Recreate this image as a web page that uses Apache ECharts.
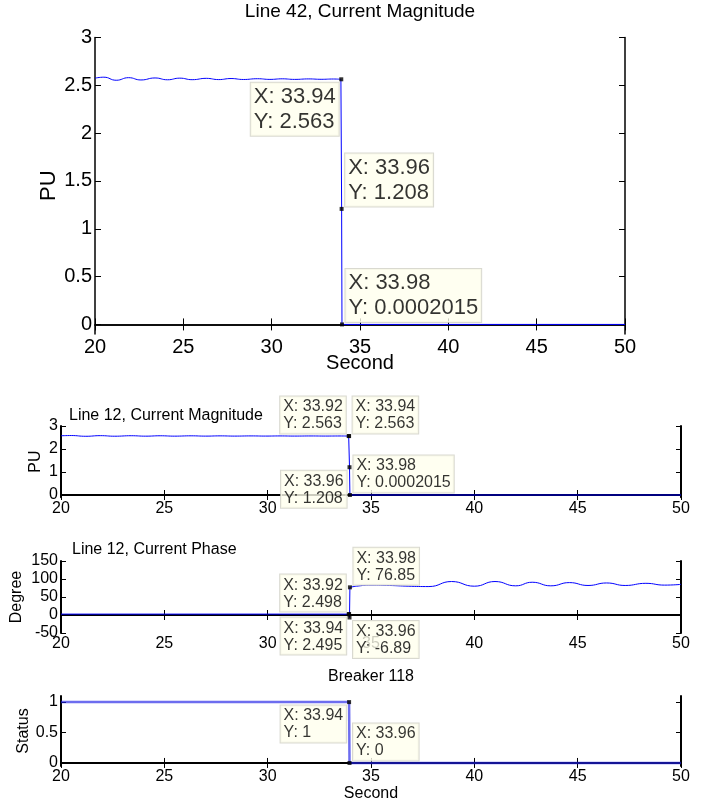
<!DOCTYPE html>
<html>
<head>
<meta charset="utf-8">
<script src="https://cdn.jsdelivr.net/npm/echarts@6.0.0/dist/echarts.min.js"></script>
<style>
html, body { margin: 0; padding: 0; background: #fff; }
#chart { width: 715px; height: 803px; }
</style>
</head>
<body>
<div id="chart"></div>
<script>
// ---- data ----
const secTicks = [20, 25, 30, 35, 40, 45, 50];

// Line 42 / Line 12 current magnitude before the trip (PU)
const magWaveT = [20.0, 20.5, 21.2, 21.9, 22.6, 23.4, 24.1, 24.8, 25.5, 26.3, 27.0, 27.7, 28.4, 29.2, 29.9, 30.6, 31.3, 32.1, 32.8, 33.5, 33.92];
const mag42Wave = [2.575, 2.585, 2.553, 2.580, 2.556, 2.577, 2.558, 2.575, 2.559, 2.573, 2.560, 2.571, 2.561, 2.569, 2.562, 2.568, 2.562, 2.567, 2.563, 2.566, 2.563];
const mag12Wave = [2.575, 2.585, 2.553, 2.580, 2.556, 2.577, 2.558, 2.575, 2.559, 2.573, 2.560, 2.571, 2.561, 2.569, 2.562, 2.568, 2.562, 2.567, 2.563, 2.566, 2.563];
// the drop
const magStepT = [33.92, 33.94, 33.96, 33.98, 34.0, 50];
const magStep = [2.563, 2.563, 1.208, 0.0002015, 0, 0];

// Line 12 current phase (degree)
const phaseStepT = [20, 25, 30, 33.92, 33.94, 33.96, 33.98];
const phaseStep = [2.5, 2.5, 2.5, 2.498, 2.495, -6.89, 76.85];
const phaseWaveT = [33.98, 34.3, 35.0, 35.9, 36.8, 37.8, 38.9, 40.0, 41.0, 42.0, 42.8, 43.7, 44.6, 45.5, 46.4, 47.3, 48.3, 49.2, 50.0];
const phaseWave = [76.85, 80, 83, 82, 80, 79, 93, 80, 93, 81, 91, 81, 90, 82, 89, 82, 88, 83, 85];

// Breaker 118 status
const statusT = [20, 33.94, 33.96, 50];
const status = [1, 1, 0, 0];

// data tips
const tip42X = [33.94, 33.96, 33.98];
const tip42Y = [2.563, 1.208, 0.0002015];
const tipMag12X = [33.92, 33.94, 33.96, 33.98];
const tipMag12Y = [2.563, 2.563, 1.208, 0.0002015];
const tipPhaseX = [33.92, 33.94, 33.96, 33.98];
const tipPhaseY = [2.498, 2.495, -6.89, 76.85];
const tipBrkX = [33.94, 33.96];
const tipBrkY = [1, 0];

// y ticks
const y42Ticks = [0, 0.5, 1, 1.5, 2, 2.5, 3];
const yMag12Ticks = [0, 1, 2, 3];
const yPhaseTicks = [-50, 0, 50, 100, 150];
const yBrkTicks = [0, 0.5, 1];

// ---- layout / style ----
const FONT = "'Liberation Sans', Arial, Helvetica, sans-serif";
const BLUE = '#0000ff';

const panels = [
    { grid: { left: 95, right: 90, top: 37.5, height: 296.5 }, ymin: -0.1, ymax: 3, yTicks: y42Ticks,
      fs: 20, lw: 1.5, tick: 6, yName: 'PU', yNameSize: 22, yGap: 35, xName: 'Second', xNameSize: 20, xGap: 19,
      tipFs: 22, tipLh: 25 },
    { grid: { left: 61, right: 34, top: 426, height: 71.3 }, ymin: -0.1, ymax: 3, yTicks: yMag12Ticks,
      fs: 16, lw: 2, tick: 5, yName: 'PU', yNameSize: 16, yGap: 17, xName: '', tipFs: 16, tipLh: 17 },
    { grid: { left: 61, right: 34, top: 561, height: 72 }, ymin: -50, ymax: 150, yTicks: yPhaseTicks,
      fs: 16, lw: 2, tick: 5, yName: 'Degree', yNameSize: 16, yGap: 36, xName: '', tipFs: 16, tipLh: 17 },
    { grid: { left: 61, right: 34, top: 696, height: 71 }, ymin: -0.05, ymax: 1.1, yTicks: yBrkTicks,
      fs: 16, lw: 2, tick: 5, yName: 'Status', yNameSize: 16, yGap: 29, xName: 'Second', xNameSize: 16, xGap: 20,
      tipFs: 16, tipLh: 17 }
];

// where each tip box sits relative to its point (u/l = up/low, l/r = left/right)
const tipPlace = [
    ['ll', 'ur', 'ur'],
    ['ul', 'ur', 'll', 'ur'],
    ['ul', 'll', 'lr', 'ur'],
    ['ll', 'ur']
];

const PAD = [2, 3, 1, 3];
let measureCtx = document.createElement('canvas').getContext('2d');

function textWidth (str, fs) {
    measureCtx.font = fs + 'px ' + FONT;
    return Math.max.apply(null, str.split('\n').map(s => measureCtx.measureText(s).width));
}

function pairs (xs, ys) {
    return xs.map((x, i) => [x, ys[i]]);
}

function tipSeries (g, xs, ys, places, p) {
    let data = xs.map((x, i) => {
        let d = places[i];
        let up = d[0] === 'u', right = d[1] === 'r';
        let text = 'X: ' + x + '\nY: ' + ys[i];
        let boxW = Math.ceil(textWidth(text, p.tipFs)) + PAD[1] + PAD[3];
        return {
            value: [x, ys[i]],
            label: {
                show: true,
                formatter: text,
                // text stays left aligned inside the box, box is shifted instead
                position: [right ? 5.5 : -0.5 - boxW, up ? -0.5 : 5.5],
                align: 'left',
                verticalAlign: up ? 'bottom' : 'top',
                fontSize: p.tipFs,
                lineHeight: p.tipLh,
                fontFamily: FONT,
                color: '#000',
                backgroundColor: '#ffffee',
                borderColor: '#cfcfc4',
                borderWidth: 1,
                padding: PAD
            }
        };
    });
    return {
        type: 'scatter', xAxisIndex: g * 2, yAxisIndex: g * 2, z: 5,
        symbol: 'rect', symbolSize: 4, itemStyle: { color: '#000' },
        silent: true, animation: false, data: data
    };
}

function lineSeries (g, data, smooth, color, width) {
    return {
        type: 'line', xAxisIndex: g * 2, yAxisIndex: g * 2, showSymbol: false,
        smooth: smooth, animation: false, silent: true,
        lineStyle: { color: color || BLUE, width: width || 1 },
        data: data
    };
}

let grids = [], xAxes = [], yAxes = [];
panels.forEach((p, g) => {
    grids.push(Object.assign({ containLabel: false }, p.grid));
    let line = { lineStyle: { color: '#000', width: p.lw } };
    let tick = { inside: true, length: p.tick, lineStyle: { color: '#000', width: 1 } };
    xAxes.push({
        gridIndex: g, type: 'value', min: 20, max: 50, position: 'bottom',
        axisLine: line, axisTick: Object.assign({ customValues: secTicks }, tick), splitLine: { show: false },
        axisLabel: { customValues: secTicks, fontSize: p.fs, color: '#000', fontFamily: FONT, margin: 3 },
        name: p.xName, nameLocation: 'middle', nameGap: p.xGap || 20, nameMoveOverlap: false,
        nameTextStyle: { fontSize: p.xNameSize || 16, color: '#000', fontFamily: FONT }
    });
    xAxes.push({
        gridIndex: g, type: 'value', min: 20, max: 50, position: 'top',
        axisLine: line, axisTick: Object.assign({ customValues: secTicks }, tick), splitLine: { show: false },
        axisLabel: { show: false }
    });
    yAxes.push({
        gridIndex: g, type: 'value', min: p.ymin, max: p.ymax, position: 'left',
        axisLine: line, axisTick: Object.assign({ customValues: p.yTicks }, tick), splitLine: { show: false },
        axisLabel: { customValues: p.yTicks, fontSize: p.fs, color: '#000', fontFamily: FONT, margin: 3 },
        name: p.yName, nameLocation: 'middle', nameGap: p.yGap, nameMoveOverlap: false,
        nameTextStyle: { fontSize: p.yNameSize, color: '#000', fontFamily: FONT }
    });
    yAxes.push({
        gridIndex: g, type: 'value', min: p.ymin, max: p.ymax, position: 'right',
        axisLine: line, axisTick: Object.assign({ customValues: p.yTicks }, tick), splitLine: { show: false },
        axisLabel: { show: false }
    });
});

let chart = echarts.init(document.getElementById('chart'), null, { renderer: 'canvas' });
chart.setOption({
    backgroundColor: '#fff',
    animation: false,
    title: [
        { text: 'Line 42, Current Magnitude', left: 360, top: 2, textAlign: 'center', padding: 0,
          textStyle: { fontSize: 19, fontWeight: 'normal', color: '#000', fontFamily: FONT } },
        { text: 'Line 12, Current Magnitude', left: 69, top: 408, padding: 0,
          textStyle: { fontSize: 16, fontWeight: 'normal', color: '#000', fontFamily: FONT } },
        { text: 'Line 12, Current Phase', left: 72, top: 542, padding: 0,
          textStyle: { fontSize: 16, fontWeight: 'normal', color: '#000', fontFamily: FONT } },
        { text: 'Breaker 118', left: 371, top: 669, textAlign: 'center', padding: 0,
          textStyle: { fontSize: 16, fontWeight: 'normal', color: '#000', fontFamily: FONT } }
    ],
    grid: grids,
    xAxis: xAxes,
    yAxis: yAxes,
    series: [
        lineSeries(0, pairs(magWaveT, mag42Wave), 0.5),
        lineSeries(0, pairs(magStepT, magStep), false),
        tipSeries(0, tip42X, tip42Y, tipPlace[0], panels[0]),

        lineSeries(1, pairs(magWaveT, mag12Wave), 0.5),
        lineSeries(1, pairs(magStepT, magStep), false),
        tipSeries(1, tipMag12X, tipMag12Y, tipPlace[1], panels[1]),

        lineSeries(2, pairs(phaseStepT, phaseStep), false),
        lineSeries(2, pairs(phaseWaveT, phaseWave), 0.5),
        tipSeries(2, tipPhaseX, tipPhaseY, tipPlace[2], panels[2]),

        lineSeries(3, pairs(statusT, status), false, 'rgba(30,30,230,0.65)', 2.5),
        tipSeries(3, tipBrkX, tipBrkY, tipPlace[3], panels[3])
    ]
});
</script>
</body>
</html>
